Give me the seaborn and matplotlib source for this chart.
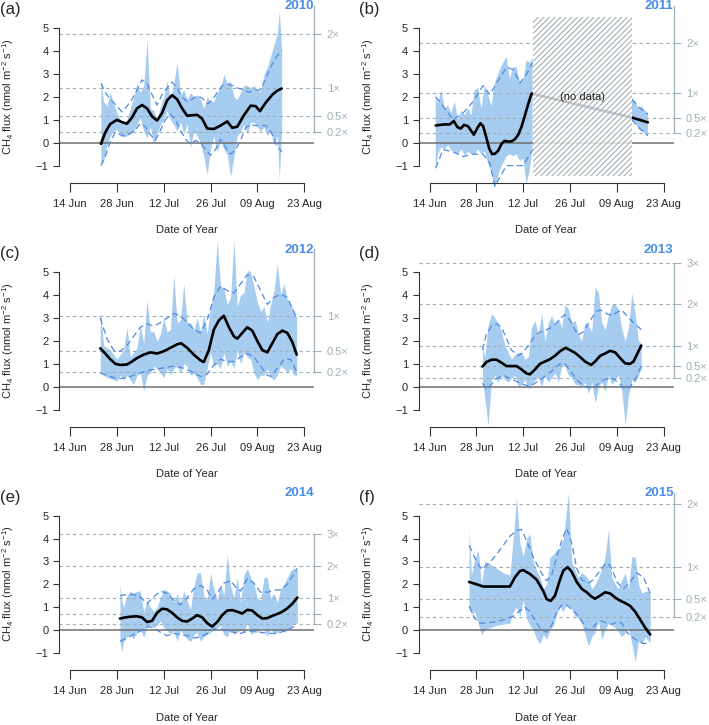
import numpy as np
import pandas as pd
import matplotlib
matplotlib.use('Agg')
import matplotlib.pyplot as plt
import seaborn as sns

sns.set_style('ticks')
plt.rcParams['font.family'] = ['Liberation Sans', 'DejaVu Sans']
plt.rcParams['mathtext.fontset'] = 'custom'
plt.rcParams['mathtext.rm'] = 'Liberation Sans'
plt.rcParams['mathtext.it'] = 'Liberation Sans:italic'
plt.rcParams['mathtext.default'] = 'regular'
plt.rcParams['hatch.linewidth'] = 0.7
plt.rcParams['hatch.color'] = '#9aa5ab'

nan = np.nan

# x is days counted from 14 Jun
tick_days = [0, 14, 28, 42, 56, 70]
tick_labels = ['14 Jun', '28 Jun', '12 Jul', '26 Jul', '09 Aug', '23 Aug']
multipliers = [0.2, 0.5, 1, 2, 3]
mult_labels = ['0.2\u00d7', '0.5\u00d7', '1\u00d7', '2\u00d7', '3\u00d7']

years = ['2010', '2011', '2012', '2013', '2014', '2015']
panel_tags = ['(a)', '(b)', '(c)', '(d)', '(e)', '(f)']
one_x = [2.38, 2.18, 3.10, 1.80, 1.40, 2.75]   # flux level of the "1x" line

# ---- 2010
band_day_2010 = [9.2, 10, 11, 12, 13, 14, 15, 16, 17, 18, 19, 20, 21, 22, 23, 24, 25, 26, 27, 28,
                 29, 30, 31, 32, 33, 34, 35, 36, 37, 38, 39, 40, 41, 42, 43, 44, 45, 46, 47, 48,
                 49, 50, 51, 52, 53, 54, 55, 56, 57, 58, 59, 60, 61, 62, 62.6, 63.3]
band_hi_2010 = [2.7, 1.8, 1.6, 2.2, 1.7, 1.3, 1.0, 0.9, 1.0, 1.5, 2.0, 2.6, 2.2, 2.5, 4.5, 1.5, 1.4, 1.0, 1.6, 2.0,
                2.7, 1.9, 2.6, 3.5, 2.1, 2.3, 1.9, 2.2, 2.0, 2.1, 1.9, 1.5, 2.0, 1.8, 1.8, 2.2, 2.4, 3.0, 2.6, 2.7,
                2.0, 1.9, 2.2, 2.5, 2.5, 2.4, 2.5, 2.3, 2.2, 3.0, 3.3, 3.8, 4.3, 4.8, 5.75, 4.0]
band_lo_2010 = [-1.0, -0.8, -0.1, 0.3, 0.5, 0.6, 0.3, 0.25, 0.3, 0.4, 0.5, 0.8, 1.1, 0.5, 0.2, 0.7, -0.1, 0.4, 0.8, 1.0,
                1.4, 1.0, 0.8, 0.5, 0.9, 0.4, 0.8, -0.2, 0.5, 0.3, 0.0, -0.6, -1.4, -0.3, 0.3, -0.4, 0.1, -0.3, -0.5, -1.5,
                -0.6, 0.3, 0.5, 0.8, 0.4, 0.9, 0.9, 0.7, 0.5, 0.7, 0.3, 0.5, -0.1, 0.3, -1.6, 0.6]
smooth_day_2010 = [9.2, 10.5, 12, 14, 15.5, 17, 18.5, 20, 21.5, 23, 24.5, 26, 27.5, 29, 30.5, 32, 33.5, 35,
                   36.5, 38, 39.5, 41, 43, 45, 47, 48.5, 50, 52, 54, 55.5, 56.8, 58.5, 60.5, 62, 63.3]
smooth_2010 = [-0.05, 0.45, 0.82, 1.0, 0.9, 0.83, 1.1, 1.5, 1.65, 1.5, 1.15, 0.97, 1.3, 1.85, 2.08, 1.9, 1.5, 1.18,
               1.2, 1.22, 1.05, 0.62, 0.6, 0.75, 0.93, 0.65, 0.7, 1.2, 1.62, 1.6, 1.38, 1.75, 2.1, 2.28, 2.37]
dhi_day_2010 = [9.2, 10.5, 12, 14, 15.5, 17, 18.5, 20, 21.5, 23, 24.5, 26, 27.5, 29, 30.5, 32, 33.5, 35,
                36.5, 38, 39.5, 41, 42.5, 44, 45.5, 47, 48.5, 50, 52, 53.5, 55, 57, 58.5, 60, 61.5, 63.3]
dhi_2010 = [2.6, 2.2, 1.9, 1.6, 1.35, 1.6, 1.9, 2.3, 2.75, 2.6, 2.1, 1.65, 2.1, 2.4, 2.65, 2.4, 2.0, 1.8,
            1.9, 2.05, 1.95, 1.7, 1.85, 2.2, 2.5, 2.55, 2.5, 2.4, 2.3, 2.2, 2.3, 2.3, 2.8, 3.3, 3.7, 4.05]
dlo_day_2010 = [9.2, 10.5, 12, 13.5, 15, 16.5, 18, 19.5, 21, 22.5, 24, 25.5, 27, 28.5, 30, 31.5, 33, 34.5, 36,
                37.5, 39, 40.5, 42, 43.5, 45, 46.5, 48, 49.5, 51, 52.5, 54, 55.5, 57, 58.5, 60, 61.5, 63.3]
dlo_2010 = [-1.0, -0.6, 0.05, 0.45, 0.35, 0.3, 0.4, 0.55, 0.85, 0.7, 0.35, 0.1, 0.55, 1.0, 1.25, 1.0, 0.55, 0.15, -0.05,
            0.1, 0.0, -0.3, -0.55, -0.3, 0.15, -0.2, -0.5, -0.3, 0.1, 0.65, 0.8, 0.75, 0.75, 0.75, 0.5, 0.0, -0.4]

# ---- 2011 (no data 15 Jul - 13 Aug)
band_day_2011 = [1.8, 2.5, 3.5, 4.5, 5.5, 6.5, 7.5, 8.5, 9.5, 10.5, 11.5, 12.5, 13.5, 14.5, 15.5, 16.5, 17.5, 18.5,
                 19.5, 21, 22, 23, 24, 25, 26, 27, 28, 29, 30, 30.8, 45, 60.5, 61.5, 62.5, 63.5, 64.5, 65.3]
band_hi_2011 = [2.1, 1.7, 2.3, 1.5, 1.6, 1.3, 1.8, 1.0, 1.4, 1.2, 1.5, 1.2, 2.3, 2.4, 1.5, 2.5, 2.1, 1.6,
                2.6, 3.2, 3.5, 3.75, 2.8, 3.3, 3.3, 2.7, 2.7, 3.6, 3.5, 3.7, nan, 1.95, 1.8, 1.5, 1.6, 1.4, 1.3]
band_lo_2011 = [-1.3, -0.5, -0.2, -0.3, -0.1, -0.35, -0.4, -0.5, -0.3, -0.55, -0.4, -0.5, -0.5, -0.3, -0.5, -0.4, -0.9, -1.3,
                -2.0, -1.2, -0.9, -0.6, -0.5, -0.6, -0.5, -0.8, -0.7, -1.8, -1.2, -0.2, nan, 1.0, 0.9, 0.6, 0.5, 0.4, 0.3]
smooth_day_2011 = [1.8, 3, 4.5, 6, 7.2, 8.3, 9.3, 10.3, 11.5, 12.5, 13.2, 14.3, 15.2, 16, 17, 17.8, 18.7, 19.6,
                   20.5, 21.5, 22.4, 23.5, 24.5, 25.5, 26.5, 27.5, 28.5, 29.5, 30.5, 60.5, 65.3]
smooth_2011 = [0.75, 0.78, 0.8, 0.8, 0.95, 0.68, 0.62, 0.78, 0.72, 0.5, 0.35, 0.65, 0.85, 0.72, 0.2, -0.25, -0.5, -0.48,
               -0.35, -0.05, 0.08, 0.05, 0.06, 0.15, 0.35, 0.7, 1.2, 1.7, 2.15, 1.1, 0.89]
dhi_day_2011 = [1.8, 4, 7, 10, 13, 16, 18, 20, 23, 25, 27, 29, 30.8, 45, 60.5, 63, 65.3]
dhi_2011 = [2.0, 1.6, 1.0, 1.3, 1.8, 2.5, 2.1, 2.6, 3.3, 3.2, 2.6, 3.0, 3.5, nan, 1.9, 1.5, 1.25]
dlo_day_2011 = [1.8, 4, 7, 10, 13, 16, 18, 19.5, 21, 23, 26, 28, 30.8, 45, 60.5, 63, 65.3]
dlo_2011 = [-1.1, -0.3, -0.4, -0.6, -0.5, -0.5, -0.9, -1.9, -1.5, -1.0, -1.0, -1.0, -0.3, nan, 1.0, 0.6, 0.3]
gap_2011 = [30.8, 60.4]

# ---- 2012
band_day_2012 = [9, 10, 11, 12, 13, 14, 15, 16, 17, 18, 19, 20, 21, 22, 23, 24, 25, 26, 27, 28, 29, 30, 31, 32, 33,
                 34, 35, 36, 37, 38, 39, 40, 41, 42, 43, 44, 45, 46, 47, 48, 49, 50, 51, 52, 53, 54, 55, 56, 57, 58,
                 59, 60, 61, 62, 63, 64, 65, 66, 67, 67.8]
band_hi_2012 = [3.4, 1.8, 1.7, 1.6, 1.4, 1.2, 1.4, 1.6, 2.6, 1.3, 1.5, 1.7, 2.7, 1.9, 3.8, 2.4, 2.4, 2.0, 2.3, 3.0,
                2.4, 2.5, 4.9, 2.8, 2.9, 4.5, 2.8, 2.8, 2.5, 3.0, 2.4, 3.2, 2.3, 3.5, 4.2, 6.4, 4.4, 4.3, 3.6, 3.9,
                6.4, 3.5, 4.0, 4.1, 5.1, 5.0, 4.4, 3.7, 3.3, 3.5, 2.8, 3.6, 4.2, 5.4, 4.0, 4.5, 3.8, 3.6, 3.3, 3.0]
band_lo_2012 = [0.6, 0.5, 0.4, 0.35, 0.3, 0.25, 0.5, 0.3, 0.5, 0.3, 0.1, 0.5, 0.6, -0.2, 0.5, 0.6, 0.9, 0.8, 0.6, 0.4,
                0.8, 0.5, 0.8, 0.9, 0.6, 1.0, 0.9, 0.5, 0.6, 0.4, 0.1, 0.1, 0.8, 1.5, 0.9, 1.0, 0.8, 1.5, 0.9, 1.1,
                0.8, 1.6, 1.0, 1.5, 1.3, 1.2, 0.6, 0.3, 0.5, 0.5, 0.8, 0.4, 0.3, 0.5, 0.9, 0.8, 0.6, 0.8, 0.5, 0.5]
smooth_day_2012 = [9, 10.5, 12, 13.5, 15, 17, 18.5, 20, 22, 24, 26, 28, 30, 32, 33.2, 35, 37, 39, 40, 41.5,
                   43, 44.5, 46, 47.5, 49, 50, 51.5, 53, 54.5, 56, 57.5, 59, 60.5, 62, 63.5, 65, 66.5, 67.8]
smooth_2012 = [1.68, 1.45, 1.2, 1.0, 0.95, 0.97, 1.1, 1.25, 1.4, 1.5, 1.45, 1.55, 1.7, 1.85, 1.9, 1.7, 1.4, 1.15, 1.08, 1.6,
               2.5, 2.9, 3.1, 2.6, 2.2, 2.1, 2.35, 2.6, 2.45, 2.0, 1.6, 1.5, 1.9, 2.3, 2.45, 2.35, 1.95, 1.4]
dhi_day_2012 = [9, 11, 13, 15, 17, 19, 21, 23, 25, 27, 29, 31, 33, 35, 37, 39, 41, 43, 45, 47, 49, 51, 53, 55, 57,
                59, 61, 63, 65, 67.8]
dhi_2012 = [3.0, 2.1, 1.6, 1.55, 1.8, 2.2, 2.6, 2.75, 2.65, 2.8, 3.0, 3.2, 3.1, 2.8, 2.5, 2.35, 2.9, 3.9, 4.4, 4.2,
            4.1, 4.5, 4.9, 4.8, 4.2, 3.6, 3.9, 4.05, 3.9, 3.0]
dlo_day_2012 = [9, 11, 13, 15, 17, 19, 21, 23, 25, 27, 29, 31, 33, 35, 37, 39, 41, 43, 45, 47, 49, 51, 53, 55, 57,
                59, 60, 62, 64, 66, 67.8]
dlo_2012 = [0.6, 0.5, 0.4, 0.35, 0.4, 0.5, 0.6, 0.7, 0.75, 0.8, 0.85, 0.9, 0.85, 0.75, 0.6, 0.45, 0.55, 0.95, 1.2, 1.1,
            1.1, 1.3, 1.45, 1.3, 0.9, 0.5, 0.45, 0.8, 1.2, 1.2, 0.65]

# ---- 2013
band_day_2013 = [15.8, 16.5, 17.5, 18.5, 19.5, 20.5, 21.5, 22.5, 23.5, 24.5, 25.5, 26.5, 27.5, 28.5, 29.5, 30.5, 31.5,
                 32.5, 33.5, 34.5, 35.5, 36.5, 37.5, 38.5, 39.5, 40.5, 41.5, 42.5, 43.5, 44.5, 45.5, 46.5, 47.5, 48.5,
                 49.5, 50.5, 51.5, 52.5, 53.5, 54.5, 55.5, 56.5, 57.5, 58.5, 59.5, 60.5, 61.5, 62.5, 63.3]
band_hi_2013 = [1.8, 1.3, 2.7, 3.2, 3.0, 2.8, 2.4, 1.8, 1.5, 1.2, 1.4, 1.5, 1.5, 1.2, 1.3, 2.6, 2.9,
                2.3, 3.2, 2.0, 2.8, 3.1, 2.7, 3.0, 2.6, 3.6, 3.4, 2.8, 2.9, 2.3, 2.0, 2.8, 2.7, 2.4,
                4.35, 4.1, 2.8, 2.5, 3.1, 3.6, 3.6, 3.4, 2.5, 2.0, 2.6, 4.1, 3.2, 2.0, 1.9]
band_lo_2013 = [0.3, -0.5, -1.7, 0.3, 0.5, 0.2, 0.5, 0.3, 0.2, 0.4, 0.5, 0.0, 0.1, 0.3, -0.1, 0.1, 0.3,
                0.4, 0.0, 0.5, 0.2, 0.4, 0.6, 0.2, 0.9, 0.9, 0.5, 0.4, 0.1, 0.1, 0.0, 0.2, -0.3, 0.2,
                -0.7, 0.0, 0.2, -0.2, 0.5, 0.1, 0.3, 0.5, -0.2, -1.7, -0.4, 0.3, 0.2, 0.5, 0.8]
smooth_day_2013 = [15.8, 17, 18.5, 20, 21.5, 23, 24.5, 26, 27.5, 29, 30, 31.5, 33, 34.5, 36, 37.5, 39, 40.7,
                   42, 43.5, 45, 46.5, 48.3, 49.5, 51, 52.5, 54, 55.5, 57, 58.5, 60, 61, 62, 63.3]
smooth_2013 = [0.88, 1.08, 1.18, 1.18, 1.05, 0.9, 0.9, 0.9, 0.75, 0.58, 0.54, 0.75, 1.0, 1.1, 1.2, 1.35, 1.55, 1.7,
               1.6, 1.48, 1.3, 1.1, 0.95, 1.1, 1.35, 1.45, 1.57, 1.5, 1.25, 1.02, 1.0, 1.1, 1.4, 1.8]
dhi_day_2013 = [15.8, 17, 18.5, 20, 21.5, 23, 24.5, 26.5, 28, 30, 32, 34, 36, 38, 40.3, 42, 44.3, 46, 48, 50,
                51, 53, 54.5, 56, 57.5, 59, 61, 63.3]
dhi_2013 = [1.6, 2.3, 2.65, 2.75, 2.6, 2.1, 1.6, 1.35, 1.5, 1.9, 2.3, 2.45, 2.55, 2.8, 3.15, 2.9, 2.25, 2.4, 2.9, 3.3,
            3.35, 3.2, 3.1, 3.25, 3.35, 3.1, 2.8, 2.5]
dlo_day_2013 = [15.8, 17, 18.5, 20, 22, 23.5, 25, 27, 29, 31, 33, 35, 37, 39, 40.5, 42, 44, 46, 48, 49.5,
                51, 53, 55, 57, 58.5, 60, 61.5, 63.3]
dlo_2013 = [0.15, -0.1, 0.1, 0.35, 0.5, 0.4, 0.3, 0.15, 0.05, 0.1, 0.3, 0.5, 0.75, 1.0, 1.0, 0.7, 0.3, 0.05, -0.05, 0.0,
            0.2, 0.35, 0.35, 0.1, -0.1, 0.0, 0.3, 0.9]

# ---- 2014
band_day_2014 = [14.9, 15.5, 16, 17, 18, 19, 20, 21, 22, 23, 24, 25, 26, 27, 28, 29, 30, 31, 32, 33, 34, 35, 36, 37,
                 38, 39, 40, 41, 42, 43, 44, 45, 46, 47, 48, 49, 50, 51, 52, 53, 54, 55, 56, 57, 58, 59, 60, 61,
                 62, 63, 64, 65, 66, 67, 68]
band_hi_2014 = [2.0, 1.2, 1.0, 1.5, 1.7, 1.6, 1.7, 1.7, 0.8, 1.3, 1.0, 0.8, 1.0, 1.4, 1.8, 1.7, 1.6, 1.2, 1.6, 1.2,
                1.7, 1.3, 0.9, 1.9, 2.5, 2.5, 1.5, 1.3, 2.5, 1.8, 1.3, 2.0, 1.5, 3.3, 1.9, 1.4, 2.3, 1.2, 2.4, 2.7,
                2.3, 2.0, 1.4, 1.3, 2.3, 2.3, 1.4, 1.6, 1.2, 1.8, 2.0, 2.3, 2.6, 2.7, 2.6]
band_lo_2014 = [-0.5, -0.95, -0.5, -0.3, -0.2, -0.4, -0.1, 0.0, -0.3, 0.1, 0.2, 0.1, 0.2, 0.4, 0.1, 0.0, -0.2, 0.0,
                -0.5, 0.0, -0.2, -0.4, -0.5, -0.2, -0.1, -0.5, -0.3, -0.2, -0.1, 0.0, 0.1, 0.2, -0.2, -0.3, 0.1,
                -0.2, -0.1, 0.0, -0.1, 0.3, -0.2, -0.1, -0.1, 0.1, 0.0, -0.3, 0.1, -0.2, -0.1, 0.0, -0.1, 0.0,
                0.1, 0.3, 0.3]
smooth_day_2014 = [14.9, 16.5, 18, 20, 21.5, 23, 24.5, 26, 27.5, 29, 30.5, 32, 33.5, 35, 36.5, 38, 39.5, 41, 42.5,
                   44, 45.5, 47, 48.5, 50, 51.5, 53, 54.5, 56, 57.5, 59, 60.5, 62, 63.5, 65, 66.5, 68]
smooth_2014 = [0.5, 0.55, 0.58, 0.6, 0.55, 0.35, 0.4, 0.75, 0.93, 0.9, 0.75, 0.55, 0.4, 0.37, 0.5, 0.65, 0.55, 0.3,
               0.15, 0.35, 0.65, 0.85, 0.87, 0.8, 0.72, 0.88, 0.85, 0.65, 0.5, 0.52, 0.62, 0.7, 0.8, 0.95, 1.15, 1.42]
dhi_day_2014 = [14.9, 17, 19, 21, 23, 25, 27, 29, 31, 33, 35, 37, 39, 41, 42.5, 44, 46, 48, 50, 51, 53, 55, 57, 59,
                61, 63, 65, 66.5, 68]
dhi_2014 = [1.5, 1.55, 1.55, 1.45, 1.15, 1.45, 1.7, 1.6, 1.3, 1.1, 1.4, 1.8, 1.95, 1.75, 1.35, 1.6, 2.05, 2.15, 1.8,
            1.7, 2.25, 2.05, 1.65, 1.65, 1.75, 1.75, 2.0, 2.35, 2.7]
dlo_day_2014 = [14.9, 17, 19, 21, 23, 25, 27, 29, 31, 33, 35, 37, 39, 41, 43, 45, 47, 49, 51, 53, 55, 57, 59, 61,
                63, 65, 67, 68]
dlo_2014 = [-0.5, -0.35, -0.2, -0.05, 0.15, 0.1, -0.1, -0.25, -0.15, -0.2, -0.25, -0.35, -0.3, -0.15, 0.05, 0.05,
            -0.05, -0.1, -0.15, -0.05, -0.05, -0.1, -0.15, -0.15, -0.1, 0.0, 0.15, 0.25]

# ---- 2015
band_day_2015 = [11.8, 12.5, 13.5, 14.5, 15.5, 16.5, 18, 20, 22, 24, 25, 26, 27, 28, 29, 30, 31, 32, 33, 34, 35, 36,
                 37, 38, 39, 40, 40.5, 41.5, 42.5, 43.5, 44.5, 45.5, 46.5, 47.5, 48.5, 49.5, 50.5, 51.5, 52.5, 53.5,
                 54.5, 55.5, 56.5, 57.5, 58.5, 59.5, 60.5, 61.5, 62.5, 63.5, 64.5, 65.5, 66]
band_hi_2015 = [4.4, 2.4, 3.1, 3.5, 2.0, 3.0, 2.9, 2.7, 2.5, 2.4, 4.0, 5.8, 3.8, 3.2, 4.0, 4.2, 3.0, 2.6, 2.3, 1.8,
                2.0, 3.2, 3.3, 3.5, 3.6, 4.0, 4.6, 6.0, 3.0, 2.6, 2.3, 2.5, 2.4, 2.2, 1.8, 2.0, 2.3, 2.7, 3.2, 4.4,
                2.3, 2.0, 1.8, 2.2, 2.5, 1.8, 3.2, 3.2, 2.0, 1.6, 1.7, 1.7, 1.6]
band_lo_2015 = [0.9, 0.7, 0.8, 0.3, -0.2, 0.0, 0.1, 0.2, 0.25, 0.3, 0.8, 1.0, 0.6, 1.3, 0.5, 0.2, 0.0, -0.4, -0.6,
                -0.2, -0.4, 0.0, 0.2, 0.7, 1.0, 0.8, 1.0, 1.1, 0.9, 0.6, 0.5, 0.3, -0.2, -0.7, -0.3, -0.1, 0.4,
                -0.4, 0.0, 0.3, 0.2, 0.1, -0.1, -0.3, -0.1, 0.1, -0.6, -1.4, -0.5, -0.6, -0.3, -0.5, -0.5]
smooth_day_2015 = [11.8, 14, 16, 18, 20, 22, 24, 25.5, 27, 28, 30, 32, 34, 35, 36.2, 37.5, 39, 40, 41.3, 42.5,
                   44, 45.5, 47, 48.5, 49.5, 51, 52.5, 54, 55.5, 57, 58.5, 60, 61.5, 63, 64.5, 66]
smooth_2015 = [2.1, 2.0, 1.9, 1.9, 1.9, 1.9, 1.9, 2.3, 2.58, 2.62, 2.45, 2.2, 1.7, 1.35, 1.27, 1.5, 2.2, 2.6, 2.75,
               2.55, 2.1, 1.8, 1.65, 1.45, 1.37, 1.5, 1.65, 1.6, 1.42, 1.28, 1.18, 1.05, 0.8, 0.45, 0.1, -0.2]
dhi_day_2015 = [11.8, 14, 15.5, 18, 20, 22, 24, 26, 27.5, 29, 31, 33, 35, 36.5, 38, 39.5, 41, 42.5, 44, 45.5,
                47.5, 49, 51, 53, 54.5, 56, 58, 60, 62, 64, 66]
dhi_2015 = [3.7, 3.0, 2.65, 2.95, 3.3, 3.7, 4.1, 4.35, 4.4, 3.9, 3.2, 2.6, 2.15, 2.4, 3.2, 3.9, 4.45, 3.8, 2.7, 2.2,
            2.05, 2.2, 2.6, 2.95, 2.7, 2.1, 1.8, 2.1, 2.5, 2.3, 1.6]
dlo_day_2015 = [11.8, 13.5, 15, 17, 19, 21, 23, 25, 27, 28.5, 30, 32, 33.5, 35, 36.5, 38, 39.5, 41, 42.5, 44,
                45.5, 47, 48.5, 50, 51.5, 53, 54.5, 56, 57.5, 59, 60.5, 62, 64, 66]
dlo_2015 = [1.05, 0.5, 0.3, 0.3, 0.35, 0.4, 0.5, 0.6, 0.85, 1.0, 0.8, 0.3, 0.0, -0.1, 0.2, 0.8, 1.1, 1.1, 0.9, 0.7,
            0.4, 0.0, 0.05, 0.3, 0.4, 0.3, 0.25, 0.35, 0.3, -0.1, -0.3, -0.45, -0.6, -0.55]

series = {
    '2010': (band_day_2010, band_hi_2010, band_lo_2010, smooth_day_2010, smooth_2010, dhi_day_2010, dhi_2010, dlo_day_2010, dlo_2010),
    '2011': (band_day_2011, band_hi_2011, band_lo_2011, smooth_day_2011, smooth_2011, dhi_day_2011, dhi_2011, dlo_day_2011, dlo_2011),
    '2012': (band_day_2012, band_hi_2012, band_lo_2012, smooth_day_2012, smooth_2012, dhi_day_2012, dhi_2012, dlo_day_2012, dlo_2012),
    '2013': (band_day_2013, band_hi_2013, band_lo_2013, smooth_day_2013, smooth_2013, dhi_day_2013, dhi_2013, dlo_day_2013, dlo_2013),
    '2014': (band_day_2014, band_hi_2014, band_lo_2014, smooth_day_2014, smooth_2014, dhi_day_2014, dhi_2014, dlo_day_2014, dlo_2014),
    '2015': (band_day_2015, band_hi_2015, band_lo_2015, smooth_day_2015, smooth_2015, dhi_day_2015, dhi_2015, dlo_day_2015, dlo_2015),
}

BAND = '#a6ccef'
DASH = '#5089e0'
YEAR = '#4a8de6'
REF = '#9cadb5'
RAX = '#9fb0b8'


def draw_line(ax, days, vals, **kw):
    # split at NaN so gaps stay open
    df = pd.DataFrame({'day': days, 'val': vals})
    df['seg'] = df['val'].isna().cumsum()
    df = df.dropna()
    sns.lineplot(data=df, x='day', y='val', units='seg', estimator=None, sort=False,
                 legend=False, ax=ax, **kw)


fig = plt.figure(figsize=(7.09, 7.25), dpi=100)
col_left = [59.5 / 709, 419 / 709]
row_bottom = [0.7568, 0.4203, 0.0847]
w, h = 254.6 / 709, 0.2198
ylo, yhi = -1.47, 5.5

for i, yr in enumerate(years):
    bd, bh, bl, sd, sm, hd, hv, ld, lv = series[yr]
    one = one_x[i]
    ax = fig.add_axes([col_left[i % 2], row_bottom[i // 2], w, h])

    ax.fill_between(np.array(bd, float), np.array(bl, float), np.array(bh, float),
                    color=BAND, lw=0, zorder=1, clip_on=False)
    for m in multipliers:
        if m * one <= yhi:
            ax.axhline(m * one, color=REF, lw=0.8, ls=(0, (3, 3)), zorder=1.5)
    ax.axhline(0, color='#6f6f6f', lw=1.1, zorder=1.6)
    draw_line(ax, hd, hv, color=DASH, lw=0.9, linestyle=(0, (5, 3)), zorder=2, clip_on=False)
    draw_line(ax, ld, lv, color=DASH, lw=0.9, linestyle=(0, (5, 3)), zorder=2, clip_on=False)
    draw_line(ax, sd, sm, color='black', lw=1.9, zorder=3)

    if yr == '2011':
        ax.axvspan(gap_2011[0], gap_2011[1], facecolor=(1, 1, 1, 0.8), edgecolor='#9aa5ab',
                   hatch='//////', lw=0, zorder=4)
        ax.text(np.mean(gap_2011), 2.0, '(no data)', fontsize=8, ha='center', va='center',
                color='#222222', zorder=5)

    ax.set_xlim(-3.2, 73)
    ax.set_ylim(ylo, yhi)
    ax.set_xticks(tick_days, tick_labels)
    ax.set_yticks(range(-1, 6))
    ax.spines[['top', 'right']].set_visible(False)
    ax.spines['left'].set_bounds(-1, 5)
    ax.spines['bottom'].set_position(('outward', 4.8))
    ax.spines['bottom'].set_bounds(0, 70)
    for s in ['left', 'bottom']:
        ax.spines[s].set_color('#333333')
        ax.spines[s].set_linewidth(0.8)
    ax.tick_params(axis='x', length=6.3, width=0.8, pad=5, labelsize=8, color='#333333')
    ax.tick_params(axis='y', length=4.5, width=0.8, pad=3.5, labelsize=8, color='#333333')
    ax.set_xlabel('Date of Year', fontsize=8)
    ax.xaxis.set_label_coords(0.5, -0.308)
    ax.set_ylabel('CH$_4$ flux (nmol m$^{-2}$ s$^{-1}$)', fontsize=8)
    ax.yaxis.set_label_coords(-0.17, 0.5)

    # multiplier axis on the right
    tw = ax.twinx()
    tw.set_ylim(ylo, yhi)
    lv_ticks = [m * one for m in multipliers if m * one <= yhi]
    lv_labels = [lab for m, lab in zip(multipliers, mult_labels) if m * one <= yhi]
    if yr == '2014':
        lv_labels = ['' if lab == '0.5\u00d7' else lab for lab in lv_labels]
    tw.set_yticks(lv_ticks, lv_labels)
    tw.spines[['top', 'left', 'bottom']].set_visible(False)
    tw.spines['right'].set_bounds(0.2 * one, min(3 * one, 6.0))
    tw.spines['right'].set_color(RAX)
    tw.spines['right'].set_linewidth(0.9)
    tw.tick_params(axis='y', length=5, width=0.8, pad=4, labelsize=8, color=RAX, labelcolor=RAX)
    tw.grid(False)

    ax.text(-0.234, 1.044, panel_tags[i], transform=ax.transAxes, fontsize=12, ha='left', va='center')
    ax.text(1.0, 1.07, yr, transform=ax.transAxes, fontsize=9.5, fontweight='bold', color=YEAR,
            ha='right', va='center')

fig.savefig('out.png', dpi=100)
